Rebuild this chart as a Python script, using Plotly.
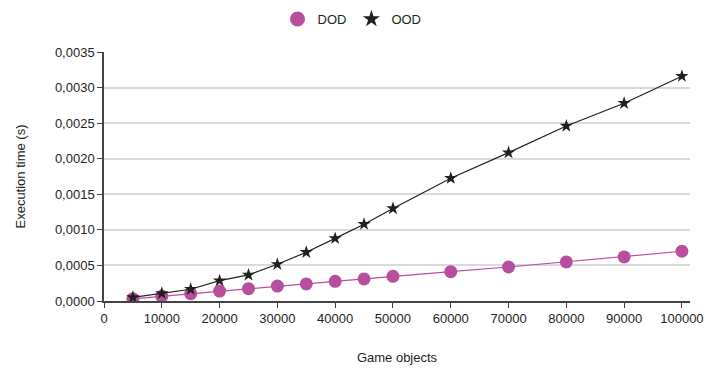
import plotly.graph_objects as go

# Number of game objects per benchmark run
game_objects = [5000, 10000, 15000, 20000, 25000, 30000, 35000, 40000, 45000,
                50000, 60000, 70000, 80000, 90000, 100000]

# Execution time in seconds, data-oriented design
dod_time = [0.00003, 0.000066, 0.000103, 0.00014, 0.000173, 0.00021, 0.00024,
            0.000277, 0.00031, 0.000347, 0.000412, 0.000478, 0.000549,
            0.000619, 0.000699]

# Execution time in seconds, object-oriented design
ood_time = [0.000052, 0.000108, 0.000165, 0.000286, 0.000366, 0.000516,
            0.000685, 0.00088, 0.00108, 0.0013, 0.001726, 0.002086, 0.00246,
            0.00278, 0.00316]

y_ticks = [0, 0.0005, 0.001, 0.0015, 0.002, 0.0025, 0.003, 0.0035]
x_ticks = [0, 10000, 20000, 30000, 40000, 50000, 60000, 70000, 80000, 90000, 100000]

FONT = "Liberation Sans, Arial, sans-serif"
DOD_COLOR = "#B84E9E"
OOD_COLOR = "#231F20"

fig = go.Figure()
fig.add_trace(go.Scatter(
    x=game_objects, y=dod_time, name="DOD", mode="lines+markers",
    line=dict(color=DOD_COLOR, width=1.2),
    marker=dict(symbol="circle", size=13, color=DOD_COLOR),
    showlegend=False,
))
fig.add_trace(go.Scatter(
    x=game_objects, y=ood_time, name="OOD", mode="lines+markers",
    line=dict(color=OOD_COLOR, width=1.2),
    marker=dict(symbol="star", size=10, color=OOD_COLOR),
    showlegend=False,
))
# Marker-only legend entries
fig.add_trace(go.Scatter(
    x=[None], y=[None], name="DOD", mode="markers",
    marker=dict(symbol="circle", size=15, color=DOD_COLOR),
))
fig.add_trace(go.Scatter(
    x=[None], y=[None], name="OOD", mode="markers",
    marker=dict(symbol="star", size=13, color=OOD_COLOR),
))

fig.update_layout(
    width=705, height=371,
    margin=dict(l=104, r=15, t=52, b=70, autoexpand=False),
    paper_bgcolor="white", plot_bgcolor="white",
    separators=", ",
    font=dict(family=FONT, size=13, color="#231F20"),
    showlegend=True,
    legend=dict(orientation="h", xref="container", x=352 / 705, xanchor="center",
                yref="container", y=1 - 19 / 371, yanchor="middle",
                font=dict(size=13), itemwidth=30, traceorder="normal"),
    xaxis=dict(
        range=[0, 101400], tickvals=x_ticks, ticktext=[str(v) for v in x_ticks],
        showgrid=False, zeroline=False, automargin=False,
        showline=True, linecolor="#444", linewidth=1.5,
        ticks="outside", ticklen=5, tickcolor="#444", tickwidth=1,
        tickfont=dict(size=13),
        title=dict(text="Game objects", font=dict(size=13), standoff=28),
    ),
    yaxis=dict(
        range=[0, 0.0035], tickvals=y_ticks, tickformat=".4f",
        showgrid=True, gridcolor="#DADADA", gridwidth=1.5, zeroline=False,
        automargin=False,
        showline=True, linecolor="#444", linewidth=1.5,
        ticks="outside", ticklen=5, tickcolor="#444", tickwidth=1,
        tickfont=dict(size=13),
        title=dict(text="Execution time (s)", font=dict(size=13), standoff=26),
    ),
)

fig.write_html("out.html")
